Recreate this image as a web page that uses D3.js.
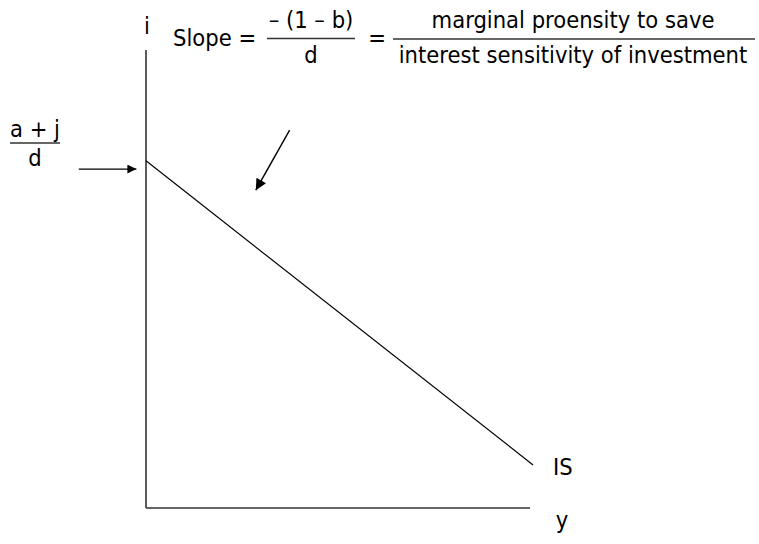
<!DOCTYPE html>
<html><head><meta charset="utf-8">
<script src="https://cdn.jsdelivr.net/npm/d3@7"></script>
<style>body{margin:0;background:#fff}text{font-family:"DejaVu Sans Condensed","DejaVu Sans",sans-serif;font-stretch:condensed;fill:#000}</style>
</head><body>
<svg id="c" width="759" height="544"></svg>
<script>
// Data (abstract units)
const xDomain = [0, 10];
const yDomain = [0, 10];
const isCurveY = [0, 10.08];      // output y
const isCurveI = [7.58, 0.94];    // interest rate i
const interceptArrowX = [-1.75, -0.25];
const interceptArrowI = [7.4, 7.4];
const slopeArrowX = [3.74, 2.86];
const slopeArrowI = [8.25, 6.94];
const labels = {i: "i", y: "y", curve: "IS"};

const svg = d3.select("#c");
const x = d3.scaleLinear().domain(xDomain).range([146, 530]);
const y = d3.scaleLinear().domain(yDomain).range([508, 50]);

const defs = svg.append("defs");
defs.append("marker").attr("id","ah").attr("viewBox","0 0 10 10").attr("refX",10).attr("refY",5)
  .attr("markerWidth",11).attr("markerHeight",9).attr("markerUnits","userSpaceOnUse").attr("orient","auto")
  .append("path").attr("d","M0,0L10,5L0,10z").attr("fill","#000");
defs.append("marker").attr("id","ah2").attr("viewBox","0 0 10 10").attr("refX",10).attr("refY",5)
  .attr("markerWidth",13).attr("markerHeight",11).attr("markerUnits","userSpaceOnUse").attr("orient","auto")
  .append("path").attr("d","M0,0L10,5L0,10z").attr("fill","#000");

// axes
svg.append("line").attr("x1",x(0)).attr("x2",x(0)).attr("y1",y(10)).attr("y2",y(0)).attr("stroke","#333").attr("stroke-width",1.6);
svg.append("line").attr("x1",x(0)).attr("x2",x(10)).attr("y1",y(0)).attr("y2",y(0)).attr("stroke","#333").attr("stroke-width",1.6);

// IS curve
const line = d3.line().x(d=>x(d[0])).y(d=>y(d[1]));
svg.append("path").attr("d", line(d3.zip(isCurveY, isCurveI))).attr("fill","none").attr("stroke","#000").attr("stroke-width",1.2);

// arrows
svg.append("path").attr("d", line(d3.zip(interceptArrowX, interceptArrowI))).attr("stroke","#000").attr("stroke-width",1.3).attr("marker-end","url(#ah)");
svg.append("path").attr("d", line(d3.zip(slopeArrowX, slopeArrowI))).attr("stroke","#000").attr("stroke-width",1.4).attr("marker-end","url(#ah2)");

const fs = 23.5;
function t(xp, yp, s, anchor){ return svg.append("text").attr("x",xp).attr("y",yp).attr("font-size",fs).attr("text-anchor",anchor||"start").text(s); }

t(147, 34, labels.i, "middle");
t(562, 528, labels.y, "middle");
t(553, 475, labels.curve);

// intercept fraction
t(35, 137, "a + j", "middle");
svg.append("line").attr("x1",10).attr("x2",60).attr("y1",143).attr("y2",143).attr("stroke","#333").attr("stroke-width",1.5);
t(35, 166, "d", "middle");

// slope formula
t(173, 46, "Slope =");
t(311, 28, "– (1 – b)", "middle");
svg.append("line").attr("x1",267).attr("x2",355).attr("y1",38.5).attr("y2",38.5).attr("stroke","#333").attr("stroke-width",1.5);
t(311, 63, "d", "middle");
t(377, 46, "=", "middle");
t(573, 28, "marginal proensity to save", "middle");
svg.append("line").attr("x1",393).attr("x2",755).attr("y1",39).attr("y2",39).attr("stroke","#333").attr("stroke-width",1.5);
t(573, 63, "interest sensitivity of investment", "middle");
</script>
</body></html>
